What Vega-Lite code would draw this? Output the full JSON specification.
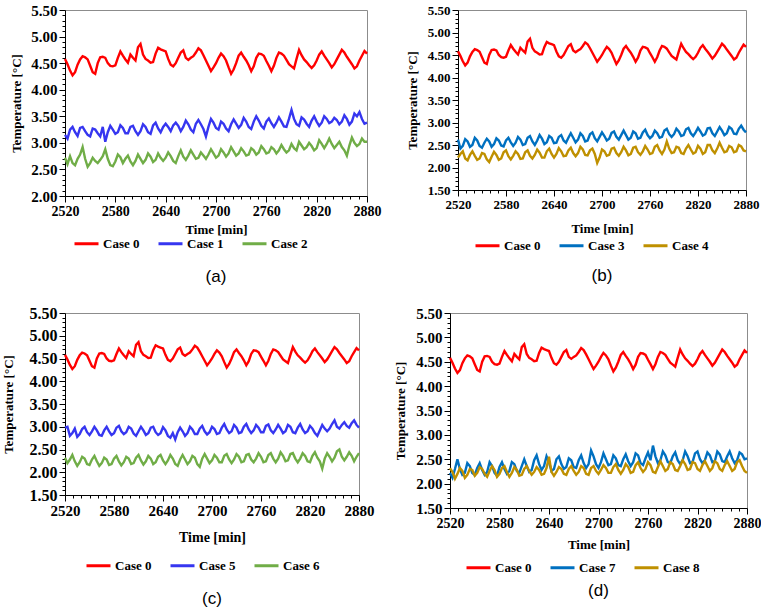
{
"$schema":"https://vega.github.io/schema/vega-lite/v6.json",
"background":"white",
"padding":{"left":1,"top":2,"right":2,"bottom":0},
"data":{"values":[
{"t":2520,"c0":4.58,"c1":3.15,"c2":2.72,"c3":2.62,"c4":2.22,"c5":2.98,"c6":2.32,"c7":2.22,"c8":2.32},
{"t":2523,"c0":4.48,"c1":3.08,"c2":2.60,"c3":2.42,"c4":2.30,"c5":3.00,"c6":2.20,"c7":2.12,"c8":2.24},
{"t":2526,"c0":4.36,"c1":3.25,"c2":2.75,"c3":2.48,"c4":2.36,"c5":2.80,"c6":2.28,"c7":2.30,"c8":2.10},
{"t":2529,"c0":4.27,"c1":3.30,"c2":2.62,"c3":2.63,"c4":2.20,"c5":2.86,"c6":2.38,"c7":2.50,"c8":2.20},
{"t":2532,"c0":4.33,"c1":3.20,"c2":2.58,"c3":2.58,"c4":2.16,"c5":2.96,"c6":2.24,"c7":2.30,"c8":2.32},
{"t":2535,"c0":4.47,"c1":3.13,"c2":2.70,"c3":2.46,"c4":2.28,"c5":2.78,"c6":2.14,"c7":2.18,"c8":2.26},
{"t":2538,"c0":4.57,"c1":3.28,"c2":2.78,"c3":2.50,"c4":2.36,"c5":2.84,"c6":2.22,"c7":2.22,"c8":2.12},
{"t":2541,"c0":4.63,"c1":3.30,"c2":2.92,"c3":2.66,"c4":2.26,"c5":2.95,"c6":2.34,"c7":2.42,"c8":2.18},
{"t":2544,"c0":4.61,"c1":3.22,"c2":2.70,"c3":2.60,"c4":2.17,"c5":3.00,"c6":2.30,"c7":2.36,"c8":2.30},
{"t":2547,"c0":4.57,"c1":3.15,"c2":2.55,"c3":2.48,"c4":2.20,"c5":2.88,"c6":2.18,"c7":2.22,"c8":2.28},
{"t":2550,"c0":4.45,"c1":3.12,"c2":2.62,"c3":2.44,"c4":2.32,"c5":2.82,"c6":2.16,"c7":2.18,"c8":2.16},
{"t":2553,"c0":4.33,"c1":3.27,"c2":2.72,"c3":2.55,"c4":2.30,"c5":2.90,"c6":2.28,"c7":2.32,"c8":2.22},
{"t":2556,"c0":4.30,"c1":3.25,"c2":2.66,"c3":2.64,"c4":2.18,"c5":3.00,"c6":2.36,"c7":2.42,"c8":2.34},
{"t":2559,"c0":4.50,"c1":3.18,"c2":2.62,"c3":2.58,"c4":2.12,"c5":2.92,"c6":2.24,"c7":2.28,"c8":2.30},
{"t":2562,"c0":4.61,"c1":3.12,"c2":2.68,"c3":2.46,"c4":2.24,"c5":2.82,"c6":2.14,"c7":2.18,"c8":2.20},
{"t":2565,"c0":4.62,"c1":3.30,"c2":2.75,"c3":2.52,"c4":2.35,"c5":2.80,"c6":2.20,"c7":2.24,"c8":2.14},
{"t":2568,"c0":4.60,"c1":3.02,"c2":2.88,"c3":2.65,"c4":2.28,"c5":2.92,"c6":2.32,"c7":2.44,"c8":2.26},
{"t":2571,"c0":4.50,"c1":3.20,"c2":2.70,"c3":2.60,"c4":2.17,"c5":3.00,"c6":2.28,"c7":2.36,"c8":2.36},
{"t":2574,"c0":4.45,"c1":3.32,"c2":2.58,"c3":2.49,"c4":2.20,"c5":2.90,"c6":2.16,"c7":2.22,"c8":2.28},
{"t":2577,"c0":4.44,"c1":3.25,"c2":2.56,"c3":2.47,"c4":2.34,"c5":2.82,"c6":2.18,"c7":2.16,"c8":2.14},
{"t":2580,"c0":4.46,"c1":3.17,"c2":2.65,"c3":2.60,"c4":2.38,"c5":2.86,"c6":2.30,"c7":2.34,"c8":2.20},
{"t":2583,"c0":4.60,"c1":3.20,"c2":2.78,"c3":2.66,"c4":2.25,"c5":2.98,"c6":2.36,"c7":2.44,"c8":2.32},
{"t":2586,"c0":4.72,"c1":3.33,"c2":2.73,"c3":2.56,"c4":2.18,"c5":3.02,"c6":2.24,"c7":2.30,"c8":2.36},
{"t":2589,"c0":4.64,"c1":3.28,"c2":2.62,"c3":2.48,"c4":2.26,"c5":2.90,"c6":2.15,"c7":2.20,"c8":2.24},
{"t":2592,"c0":4.57,"c1":3.18,"c2":2.70,"c3":2.55,"c4":2.36,"c5":2.84,"c6":2.22,"c7":2.26,"c8":2.14},
{"t":2595,"c0":4.51,"c1":3.18,"c2":2.76,"c3":2.68,"c4":2.30,"c5":2.88,"c6":2.34,"c7":2.44,"c8":2.22},
{"t":2598,"c0":4.66,"c1":3.30,"c2":2.65,"c3":2.62,"c4":2.19,"c5":3.00,"c6":2.30,"c7":2.40,"c8":2.34},
{"t":2601,"c0":4.60,"c1":3.32,"c2":2.58,"c3":2.50,"c4":2.20,"c5":2.96,"c6":2.18,"c7":2.26,"c8":2.28},
{"t":2604,"c0":4.55,"c1":3.22,"c2":2.66,"c3":2.52,"c4":2.34,"c5":2.85,"c6":2.20,"c7":2.22,"c8":2.16},
{"t":2607,"c0":4.80,"c1":3.15,"c2":2.78,"c3":2.66,"c4":2.38,"c5":2.80,"c6":2.32,"c7":2.36,"c8":2.18},
{"t":2610,"c0":4.86,"c1":3.22,"c2":2.70,"c3":2.70,"c4":2.26,"c5":2.90,"c6":2.38,"c7":2.50,"c8":2.30},
{"t":2613,"c0":4.66,"c1":3.35,"c2":2.62,"c3":2.58,"c4":2.20,"c5":3.00,"c6":2.26,"c7":2.36,"c8":2.36},
{"t":2616,"c0":4.58,"c1":3.30,"c2":2.68,"c3":2.50,"c4":2.28,"c5":2.92,"c6":2.17,"c7":2.24,"c8":2.26},
{"t":2619,"c0":4.55,"c1":3.20,"c2":2.80,"c3":2.60,"c4":2.40,"c5":2.82,"c6":2.24,"c7":2.28,"c8":2.18},
{"t":2622,"c0":4.51,"c1":3.17,"c2":2.74,"c3":2.72,"c4":2.33,"c5":2.86,"c6":2.36,"c7":2.48,"c8":2.24},
{"t":2625,"c0":4.52,"c1":3.33,"c2":2.64,"c3":2.64,"c4":2.22,"c5":2.98,"c6":2.30,"c7":2.58,"c8":2.34},
{"t":2628,"c0":4.68,"c1":3.38,"c2":2.68,"c3":2.52,"c4":2.22,"c5":3.00,"c6":2.18,"c7":2.40,"c8":2.28},
{"t":2631,"c0":4.79,"c1":3.27,"c2":2.80,"c3":2.56,"c4":2.36,"c5":2.88,"c6":2.22,"c7":2.28,"c8":2.18},
{"t":2634,"c0":4.76,"c1":3.20,"c2":2.72,"c3":2.70,"c4":2.42,"c5":2.82,"c6":2.34,"c7":2.36,"c8":2.20},
{"t":2637,"c0":4.74,"c1":3.30,"c2":2.66,"c3":2.66,"c4":2.30,"c5":2.86,"c6":2.38,"c7":2.56,"c8":2.32},
{"t":2640,"c0":4.72,"c1":3.36,"c2":2.72,"c3":2.54,"c4":2.22,"c5":2.99,"c6":2.26,"c7":2.44,"c8":2.55},
{"t":2643,"c0":4.58,"c1":3.30,"c2":2.82,"c3":2.55,"c4":2.30,"c5":2.92,"c6":2.18,"c7":2.26,"c8":2.24},
{"t":2646,"c0":4.47,"c1":3.22,"c2":2.75,"c3":2.68,"c4":2.43,"c5":2.80,"c6":2.26,"c7":2.30,"c8":2.16},
{"t":2649,"c0":4.44,"c1":3.33,"c2":2.66,"c3":2.72,"c4":2.36,"c5":2.76,"c6":2.38,"c7":2.50,"c8":2.24},
{"t":2652,"c0":4.50,"c1":3.38,"c2":2.62,"c3":2.60,"c4":2.25,"c5":2.86,"c6":2.30,"c7":2.56,"c8":2.34},
{"t":2655,"c0":4.60,"c1":3.32,"c2":2.75,"c3":2.55,"c4":2.26,"c5":2.72,"c6":2.18,"c7":2.40,"c8":2.30},
{"t":2658,"c0":4.70,"c1":3.22,"c2":2.86,"c3":2.66,"c4":2.38,"c5":2.88,"c6":2.14,"c7":2.30,"c8":2.20},
{"t":2661,"c0":4.74,"c1":3.30,"c2":2.74,"c3":2.76,"c4":2.44,"c5":2.98,"c6":2.28,"c7":2.34,"c8":2.18},
{"t":2664,"c0":4.60,"c1":3.42,"c2":2.68,"c3":2.66,"c4":2.32,"c5":2.90,"c6":2.38,"c7":2.52,"c8":2.30},
{"t":2667,"c0":4.56,"c1":3.35,"c2":2.76,"c3":2.56,"c4":2.25,"c5":2.80,"c6":2.28,"c7":2.48,"c8":2.36},
{"t":2670,"c0":4.60,"c1":3.25,"c2":2.86,"c3":2.62,"c4":2.32,"c5":2.86,"c6":2.18,"c7":2.34,"c8":2.26},
{"t":2673,"c0":4.63,"c1":3.20,"c2":2.78,"c3":2.76,"c4":2.46,"c5":3.00,"c6":2.24,"c7":2.32,"c8":2.18},
{"t":2676,"c0":4.70,"c1":3.36,"c2":2.70,"c3":2.70,"c4":2.40,"c5":2.94,"c6":2.36,"c7":2.48,"c8":2.24},
{"t":2679,"c0":4.78,"c1":3.43,"c2":2.72,"c3":2.58,"c4":2.28,"c5":2.84,"c6":2.32,"c7":2.58,"c8":2.36},
{"t":2682,"c0":4.74,"c1":3.35,"c2":2.82,"c3":2.60,"c4":2.27,"c5":2.84,"c6":2.18,"c7":2.42,"c8":2.32},
{"t":2685,"c0":4.65,"c1":3.26,"c2":2.76,"c3":2.74,"c4":2.38,"c5":2.96,"c6":2.12,"c7":2.32,"c8":2.20},
{"t":2688,"c0":4.55,"c1":3.12,"c2":2.70,"c3":2.78,"c4":2.42,"c5":3.02,"c6":2.30,"c7":2.40,"c8":2.18},
{"t":2691,"c0":4.45,"c1":3.30,"c2":2.78,"c3":2.65,"c4":2.30,"c5":2.90,"c6":2.40,"c7":2.68,"c8":2.32},
{"t":2694,"c0":4.35,"c1":3.45,"c2":2.88,"c3":2.58,"c4":2.10,"c5":2.83,"c6":2.30,"c7":2.56,"c8":2.36},
{"t":2697,"c0":4.42,"c1":3.38,"c2":2.80,"c3":2.68,"c4":2.22,"c5":2.88,"c6":2.20,"c7":2.40,"c8":2.26},
{"t":2700,"c0":4.50,"c1":3.28,"c2":2.72,"c3":2.78,"c4":2.40,"c5":3.00,"c6":2.26,"c7":2.32,"c8":2.20},
{"t":2703,"c0":4.60,"c1":3.25,"c2":2.76,"c3":2.70,"c4":2.36,"c5":2.95,"c6":2.38,"c7":2.44,"c8":2.28},
{"t":2706,"c0":4.68,"c1":3.40,"c2":2.88,"c3":2.60,"c4":2.26,"c5":2.84,"c6":2.32,"c7":2.62,"c8":2.38},
{"t":2709,"c0":4.63,"c1":3.36,"c2":2.82,"c3":2.64,"c4":2.28,"c5":2.86,"c6":2.22,"c7":2.50,"c8":2.32},
{"t":2712,"c0":4.55,"c1":3.27,"c2":2.74,"c3":2.77,"c4":2.42,"c5":2.98,"c6":2.22,"c7":2.38,"c8":2.22},
{"t":2715,"c0":4.42,"c1":3.22,"c2":2.80,"c3":2.80,"c4":2.44,"c5":3.06,"c6":2.36,"c7":2.40,"c8":2.22},
{"t":2718,"c0":4.30,"c1":3.35,"c2":2.92,"c3":2.68,"c4":2.32,"c5":2.94,"c6":2.40,"c7":2.58,"c8":2.34},
{"t":2721,"c0":4.38,"c1":3.44,"c2":2.84,"c3":2.62,"c4":2.26,"c5":2.86,"c6":2.28,"c7":2.52,"c8":2.40},
{"t":2724,"c0":4.50,"c1":3.36,"c2":2.76,"c3":2.72,"c4":2.34,"c5":2.90,"c6":2.20,"c7":2.38,"c8":2.28},
{"t":2727,"c0":4.64,"c1":3.28,"c2":2.80,"c3":2.82,"c4":2.46,"c5":3.04,"c6":2.28,"c7":2.36,"c8":2.20},
{"t":2730,"c0":4.70,"c1":3.34,"c2":2.90,"c3":2.72,"c4":2.38,"c5":2.98,"c6":2.40,"c7":2.50,"c8":2.28},
{"t":2733,"c0":4.62,"c1":3.47,"c2":2.84,"c3":2.62,"c4":2.27,"c5":2.86,"c6":2.34,"c7":2.60,"c8":2.40},
{"t":2736,"c0":4.55,"c1":3.40,"c2":2.76,"c3":2.66,"c4":2.30,"c5":2.88,"c6":2.22,"c7":2.46,"c8":2.34},
{"t":2739,"c0":4.46,"c1":3.30,"c2":2.78,"c3":2.80,"c4":2.44,"c5":3.00,"c6":2.24,"c7":2.36,"c8":2.22},
{"t":2742,"c0":4.35,"c1":3.26,"c2":2.90,"c3":2.76,"c4":2.46,"c5":3.06,"c6":2.38,"c7":2.44,"c8":2.24},
{"t":2745,"c0":4.44,"c1":3.40,"c2":2.86,"c3":2.64,"c4":2.34,"c5":2.94,"c6":2.40,"c7":2.62,"c8":2.38},
{"t":2748,"c0":4.60,"c1":3.50,"c2":2.78,"c3":2.66,"c4":2.28,"c5":2.86,"c6":2.28,"c7":2.58,"c8":2.44},
{"t":2751,"c0":4.68,"c1":3.42,"c2":2.82,"c3":2.78,"c4":2.36,"c5":2.92,"c6":2.22,"c7":2.42,"c8":2.32},
{"t":2754,"c0":4.67,"c1":3.32,"c2":2.94,"c3":2.84,"c4":2.48,"c5":3.04,"c6":2.30,"c7":2.38,"c8":2.24},
{"t":2757,"c0":4.64,"c1":3.27,"c2":2.88,"c3":2.72,"c4":2.40,"c5":2.98,"c6":2.42,"c7":2.52,"c8":2.30},
{"t":2760,"c0":4.54,"c1":3.40,"c2":2.80,"c3":2.65,"c4":2.30,"c5":2.88,"c6":2.34,"c7":2.64,"c8":2.44},
{"t":2763,"c0":4.45,"c1":3.46,"c2":2.82,"c3":2.70,"c4":2.32,"c5":2.88,"c6":2.22,"c7":2.48,"c8":2.38},
{"t":2766,"c0":4.35,"c1":3.37,"c2":2.92,"c3":2.82,"c4":2.46,"c5":3.02,"c6":2.24,"c7":2.78,"c8":2.24},
{"t":2769,"c0":4.45,"c1":3.30,"c2":2.88,"c3":2.76,"c4":2.50,"c5":3.05,"c6":2.38,"c7":2.56,"c8":2.22},
{"t":2772,"c0":4.60,"c1":3.38,"c2":2.80,"c3":2.66,"c4":2.38,"c5":2.92,"c6":2.42,"c7":2.42,"c8":2.34},
{"t":2775,"c0":4.70,"c1":3.48,"c2":2.86,"c3":2.68,"c4":2.30,"c5":2.86,"c6":2.30,"c7":2.48,"c8":2.46},
{"t":2778,"c0":4.68,"c1":3.40,"c2":2.96,"c3":2.82,"c4":2.40,"c5":2.94,"c6":2.22,"c7":2.66,"c8":2.36},
{"t":2781,"c0":4.64,"c1":3.31,"c2":2.88,"c3":2.86,"c4":2.58,"c5":3.04,"c6":2.30,"c7":2.58,"c8":2.26},
{"t":2784,"c0":4.56,"c1":3.30,"c2":2.82,"c3":2.74,"c4":2.42,"c5":2.96,"c6":2.44,"c7":2.44,"c8":2.30},
{"t":2787,"c0":4.48,"c1":3.45,"c2":2.86,"c3":2.68,"c4":2.32,"c5":2.86,"c6":2.36,"c7":2.42,"c8":2.44},
{"t":2790,"c0":4.44,"c1":3.62,"c2":2.98,"c3":2.74,"c4":2.34,"c5":2.90,"c6":2.24,"c7":2.56,"c8":2.40},
{"t":2793,"c0":4.40,"c1":3.45,"c2":2.90,"c3":2.86,"c4":2.46,"c5":3.04,"c6":2.26,"c7":2.64,"c8":2.28},
{"t":2796,"c0":4.58,"c1":3.35,"c2":2.86,"c3":2.80,"c4":2.44,"c5":3.00,"c6":2.40,"c7":2.48,"c8":2.26},
{"t":2799,"c0":4.75,"c1":3.32,"c2":3.02,"c3":2.70,"c4":2.32,"c5":2.88,"c6":2.42,"c7":2.40,"c8":2.36},
{"t":2802,"c0":4.65,"c1":3.48,"c2":2.95,"c3":2.72,"c4":2.30,"c5":2.86,"c6":2.30,"c7":2.48,"c8":2.48},
{"t":2805,"c0":4.57,"c1":3.44,"c2":2.88,"c3":2.85,"c4":2.42,"c5":2.98,"c6":2.22,"c7":2.66,"c8":2.40},
{"t":2808,"c0":4.52,"c1":3.36,"c2":2.92,"c3":2.88,"c4":2.50,"c5":3.06,"c6":2.30,"c7":2.56,"c8":2.28},
{"t":2811,"c0":4.46,"c1":3.30,"c2":3.00,"c3":2.76,"c4":2.40,"c5":2.94,"c6":2.42,"c7":2.42,"c8":2.30},
{"t":2814,"c0":4.41,"c1":3.42,"c2":2.94,"c3":2.70,"c4":2.31,"c5":2.86,"c6":2.36,"c7":2.44,"c8":2.44},
{"t":2817,"c0":4.46,"c1":3.50,"c2":2.86,"c3":2.78,"c4":2.34,"c5":2.90,"c6":2.24,"c7":2.62,"c8":2.42},
{"t":2820,"c0":4.55,"c1":3.40,"c2":2.90,"c3":2.88,"c4":2.48,"c5":3.02,"c6":2.22,"c7":2.66,"c8":2.30},
{"t":2823,"c0":4.66,"c1":3.32,"c2":3.05,"c3":2.80,"c4":2.42,"c5":2.96,"c6":2.36,"c7":2.50,"c8":2.26},
{"t":2826,"c0":4.72,"c1":3.38,"c2":2.98,"c3":2.71,"c4":2.30,"c5":2.86,"c6":2.44,"c7":2.42,"c8":2.38},
{"t":2829,"c0":4.64,"c1":3.50,"c2":2.90,"c3":2.74,"c4":2.34,"c5":2.80,"c6":2.32,"c7":2.48,"c8":2.46},
{"t":2832,"c0":4.57,"c1":3.45,"c2":2.98,"c3":2.87,"c4":2.50,"c5":2.92,"c6":2.24,"c7":2.64,"c8":2.36},
{"t":2835,"c0":4.50,"c1":3.37,"c2":3.08,"c3":2.88,"c4":2.50,"c5":3.04,"c6":2.08,"c7":2.58,"c8":2.26},
{"t":2838,"c0":4.42,"c1":3.40,"c2":2.98,"c3":2.76,"c4":2.38,"c5":2.96,"c6":2.30,"c7":2.44,"c8":2.32},
{"t":2841,"c0":4.48,"c1":3.47,"c2":2.90,"c3":2.70,"c4":2.32,"c5":2.90,"c6":2.42,"c7":2.46,"c8":2.46},
{"t":2844,"c0":4.57,"c1":3.43,"c2":2.96,"c3":2.80,"c4":2.42,"c5":2.96,"c6":2.34,"c7":2.66,"c8":2.42},
{"t":2847,"c0":4.66,"c1":3.35,"c2":3.02,"c3":2.90,"c4":2.55,"c5":3.06,"c6":2.24,"c7":2.60,"c8":2.30},
{"t":2850,"c0":4.75,"c1":3.40,"c2":2.92,"c3":2.82,"c4":2.44,"c5":3.14,"c6":2.32,"c7":2.46,"c8":2.26},
{"t":2853,"c0":4.70,"c1":3.52,"c2":2.86,"c3":2.72,"c4":2.34,"c5":3.00,"c6":2.46,"c7":2.44,"c8":2.38},
{"t":2856,"c0":4.62,"c1":3.45,"c2":2.76,"c3":2.76,"c4":2.36,"c5":2.96,"c6":2.50,"c7":2.56,"c8":2.46},
{"t":2859,"c0":4.55,"c1":3.34,"c2":2.95,"c3":2.90,"c4":2.48,"c5":3.04,"c6":2.34,"c7":2.66,"c8":2.36},
{"t":2862,"c0":4.48,"c1":3.40,"c2":3.10,"c3":2.86,"c4":2.45,"c5":3.10,"c6":2.26,"c7":2.52,"c8":2.26},
{"t":2865,"c0":4.40,"c1":3.55,"c2":3.00,"c3":2.75,"c4":2.34,"c5":3.02,"c6":2.34,"c7":2.42,"c8":2.30},
{"t":2868,"c0":4.44,"c1":3.50,"c2":2.94,"c3":2.74,"c4":2.36,"c5":2.98,"c6":2.44,"c7":2.48,"c8":2.44},
{"t":2871,"c0":4.55,"c1":3.58,"c2":2.98,"c3":2.86,"c4":2.50,"c5":3.08,"c6":2.36,"c7":2.64,"c8":2.48},
{"t":2874,"c0":4.64,"c1":3.45,"c2":3.08,"c3":2.93,"c4":2.47,"c5":3.14,"c6":2.24,"c7":2.60,"c8":2.36},
{"t":2877,"c0":4.73,"c1":3.36,"c2":3.02,"c3":2.84,"c4":2.38,"c5":3.04,"c6":2.34,"c7":2.50,"c8":2.26},
{"t":2880,"c0":4.68,"c1":3.38,"c2":3.02,"c3":2.78,"c4":2.36,"c5":2.98,"c6":2.42,"c7":2.52,"c8":2.22}
]},
"spacing":18,
"vconcat":[
{"hconcat":[
{"width":302,"height":186,
"transform":[{"fold":["c0","c1","c2"],"as":["k","v"]}],
"mark":{"type":"line","strokeWidth":2.4},
"encoding":{
"x":{"field":"t","type":"quantitative","scale":{"domain":[2520,2880],"nice":false,"zero":false},"axis":{"title":"Time [min]","format":"d","labelFontSize":14,"titlePadding":5,"values":[2520,2530,2540,2550,2560,2570,2580,2590,2600,2610,2620,2630,2640,2650,2660,2670,2680,2690,2700,2710,2720,2730,2740,2750,2760,2770,2780,2790,2800,2810,2820,2830,2840,2850,2860,2870,2880],"labelExpr":"datum.value % 60 == 0 ? datum.label : ''","tickSize":{"condition":{"test":"datum.value % 60 == 0","value":6},"value":3},"labelFlush":false,"labelOverlap":false}},
"y":{"field":"v","type":"quantitative","scale":{"domain":[2,5.5],"nice":false,"zero":false},"axis":{"title":"Temperature  [°C]","labelFontSize":15,"titlePadding":7,"values":[2,2.1,2.2,2.3,2.4,2.5,2.6,2.7,2.8,2.9,3,3.1,3.2,3.3,3.4,3.5,3.6,3.7,3.8,3.9,4,4.1,4.2,4.3,4.4,4.5,4.6,4.7,4.8,4.9,5,5.1,5.2,5.3,5.4,5.5],"labelExpr":"abs(datum.value*2-round(datum.value*2))<0.001 ? format(datum.value,'.2f') : ''","tickSize":{"condition":{"test":"abs(datum.value*2-round(datum.value*2))<0.001","value":6},"value":3},"labelOverlap":false}},
"color":{"field":"k","type":"nominal","scale":{"domain":["c0","c1","c2"],"range":["#ff0000","#3636f0","#70ad47"]},"legend":{"title":null,"offset":-14,"padding":8,"labelExpr":"replace(datum.label,'c','Case ')"}}
},
"title":{"text":"(a)","offset":10}},
{"width":288,"height":180,
"transform":[{"fold":["c0","c3","c4"],"as":["k","v"]}],
"mark":{"type":"line","strokeWidth":2.4},
"encoding":{
"x":{"field":"t","type":"quantitative","scale":{"domain":[2520,2880],"nice":false,"zero":false},"axis":{"title":"Time [min]","format":"d","labelFontSize":13,"titlePadding":11,"values":[2520,2530,2540,2550,2560,2570,2580,2590,2600,2610,2620,2630,2640,2650,2660,2670,2680,2690,2700,2710,2720,2730,2740,2750,2760,2770,2780,2790,2800,2810,2820,2830,2840,2850,2860,2870,2880],"labelExpr":"datum.value % 60 == 0 ? datum.label : ''","tickSize":{"condition":{"test":"datum.value % 60 == 0","value":6},"value":3},"labelFlush":false,"labelOverlap":false}},
"y":{"field":"v","type":"quantitative","scale":{"domain":[1.5,5.5],"nice":false,"zero":false},"axis":{"title":"Temperature  [°C]","labelFontSize":13,"titlePadding":8,"values":[1.5,1.6,1.7,1.8,1.9,2,2.1,2.2,2.3,2.4,2.5,2.6,2.7,2.8,2.9,3,3.1,3.2,3.3,3.4,3.5,3.6,3.7,3.8,3.9,4,4.1,4.2,4.3,4.4,4.5,4.6,4.7,4.8,4.9,5,5.1,5.2,5.3,5.4,5.5],"labelExpr":"abs(datum.value*2-round(datum.value*2))<0.001 ? format(datum.value,'.2f') : ''","tickSize":{"condition":{"test":"abs(datum.value*2-round(datum.value*2))<0.001","value":6},"value":3},"labelOverlap":false}},
"color":{"field":"k","type":"nominal","scale":{"domain":["c0","c3","c4"],"range":["#ff0000","#0070c0","#bf9000"]},"legend":{"title":null,"offset":-19,"padding":16,"labelExpr":"replace(datum.label,'c','Case ')"}}
},
"title":{"text":"(b)","offset":-1}}
],"spacing":23,"resolve":{"scale":{"color":"independent","x":"independent","y":"independent"},"legend":{"color":"independent"}}},
{"hconcat":[
{"width":294,"height":182,
"transform":[{"fold":["c0","c5","c6"],"as":["k","v"]}],
"mark":{"type":"line","strokeWidth":2.4},
"encoding":{
"x":{"field":"t","type":"quantitative","scale":{"domain":[2520,2880],"nice":false,"zero":false},"axis":{"title":"Time [min]","format":"d","labelFontSize":15,"titleFontSize":14,"titlePadding":12,"values":[2520,2530,2540,2550,2560,2570,2580,2590,2600,2610,2620,2630,2640,2650,2660,2670,2680,2690,2700,2710,2720,2730,2740,2750,2760,2770,2780,2790,2800,2810,2820,2830,2840,2850,2860,2870,2880],"labelExpr":"datum.value % 60 == 0 ? datum.label : ''","tickSize":{"condition":{"test":"datum.value % 60 == 0","value":6},"value":3},"labelFlush":false,"labelOverlap":false}},
"y":{"field":"v","type":"quantitative","scale":{"domain":[1.5,5.5],"nice":false,"zero":false},"axis":{"title":"Temperature  [°C]","labelFontSize":16,"titlePadding":14,"values":[1.5,1.6,1.7,1.8,1.9,2,2.1,2.2,2.3,2.4,2.5,2.6,2.7,2.8,2.9,3,3.1,3.2,3.3,3.4,3.5,3.6,3.7,3.8,3.9,4,4.1,4.2,4.3,4.4,4.5,4.6,4.7,4.8,4.9,5,5.1,5.2,5.3,5.4,5.5],"labelExpr":"abs(datum.value*2-round(datum.value*2))<0.001 ? format(datum.value,'.2f') : ''","tickSize":{"condition":{"test":"abs(datum.value*2-round(datum.value*2))<0.001","value":6},"value":3},"labelOverlap":false}},
"color":{"field":"k","type":"nominal","scale":{"domain":["c0","c5","c6"],"range":["#ff0000","#3636f0","#70ad47"]},"legend":{"title":null,"offset":-12,"padding":20,"labelExpr":"replace(datum.label,'c','Case ')"}}
},
"title":{"text":"(c)","offset":-2}},
{"width":297,"height":195,
"transform":[{"fold":["c0","c7","c8"],"as":["k","v"]}],
"mark":{"type":"line","strokeWidth":2.4},
"encoding":{
"x":{"field":"t","type":"quantitative","scale":{"domain":[2520,2880],"nice":false,"zero":false},"axis":{"title":"Time [min]","format":"d","labelFontSize":14,"titlePadding":8,"values":[2520,2530,2540,2550,2560,2570,2580,2590,2600,2610,2620,2630,2640,2650,2660,2670,2680,2690,2700,2710,2720,2730,2740,2750,2760,2770,2780,2790,2800,2810,2820,2830,2840,2850,2860,2870,2880],"labelExpr":"datum.value % 60 == 0 ? datum.label : ''","tickSize":{"condition":{"test":"datum.value % 60 == 0","value":6},"value":3},"labelFlush":false,"labelOverlap":false}},
"y":{"field":"v","type":"quantitative","scale":{"domain":[1.5,5.5],"nice":false,"zero":false},"axis":{"title":"Temperature  [°C]","labelFontSize":15,"titlePadding":8,"values":[1.5,1.6,1.7,1.8,1.9,2,2.1,2.2,2.3,2.4,2.5,2.6,2.7,2.8,2.9,3,3.1,3.2,3.3,3.4,3.5,3.6,3.7,3.8,3.9,4,4.1,4.2,4.3,4.4,4.5,4.6,4.7,4.8,4.9,5,5.1,5.2,5.3,5.4,5.5],"labelExpr":"abs(datum.value*2-round(datum.value*2))<0.001 ? format(datum.value,'.2f') : ''","tickSize":{"condition":{"test":"abs(datum.value*2-round(datum.value*2))<0.001","value":6},"value":3},"labelOverlap":false}},
"color":{"field":"k","type":"nominal","scale":{"domain":["c0","c7","c8"],"range":["#ff0000","#0070c0","#bf9000"]},"legend":{"title":null,"offset":-12,"padding":15,"labelExpr":"replace(datum.label,'c','Case ')"}}
},
"title":{"text":"(d)","offset":-7}}
],"spacing":19,"resolve":{"scale":{"color":"independent","x":"independent","y":"independent"},"legend":{"color":"independent"}}}
],
"resolve":{"scale":{"color":"independent","x":"independent","y":"independent"},"legend":{"color":"independent"}},
"config":{
"view":{"stroke":"#8c8c8c","strokeWidth":1},
"axis":{"labelFont":"Liberation Serif","labelFontWeight":"bold","labelFontSize":13,"labelColor":"#000000","titleFont":"Liberation Serif","titleFontWeight":"bold","titleFontSize":13,"titleColor":"#000000","domainColor":"#000000","tickColor":"#000000","grid":false,"labelPadding":2,"titlePadding":5},
"legend":{"orient":"bottom","direction":"horizontal","symbolType":"stroke","symbolSize":576,"symbolStrokeWidth":3,"labelFont":"Liberation Serif","labelFontWeight":"bold","labelFontSize":13,"labelColor":"#000000","columnPadding":12,"labelOffset":3,"padding":17,"layout":{"bottom":{"anchor":"start"}}},
"title":{"font":"Liberation Sans","fontSize":17,"fontWeight":"normal","color":"#000000","orient":"bottom","offset":14,"anchor":"middle"}
}
}
